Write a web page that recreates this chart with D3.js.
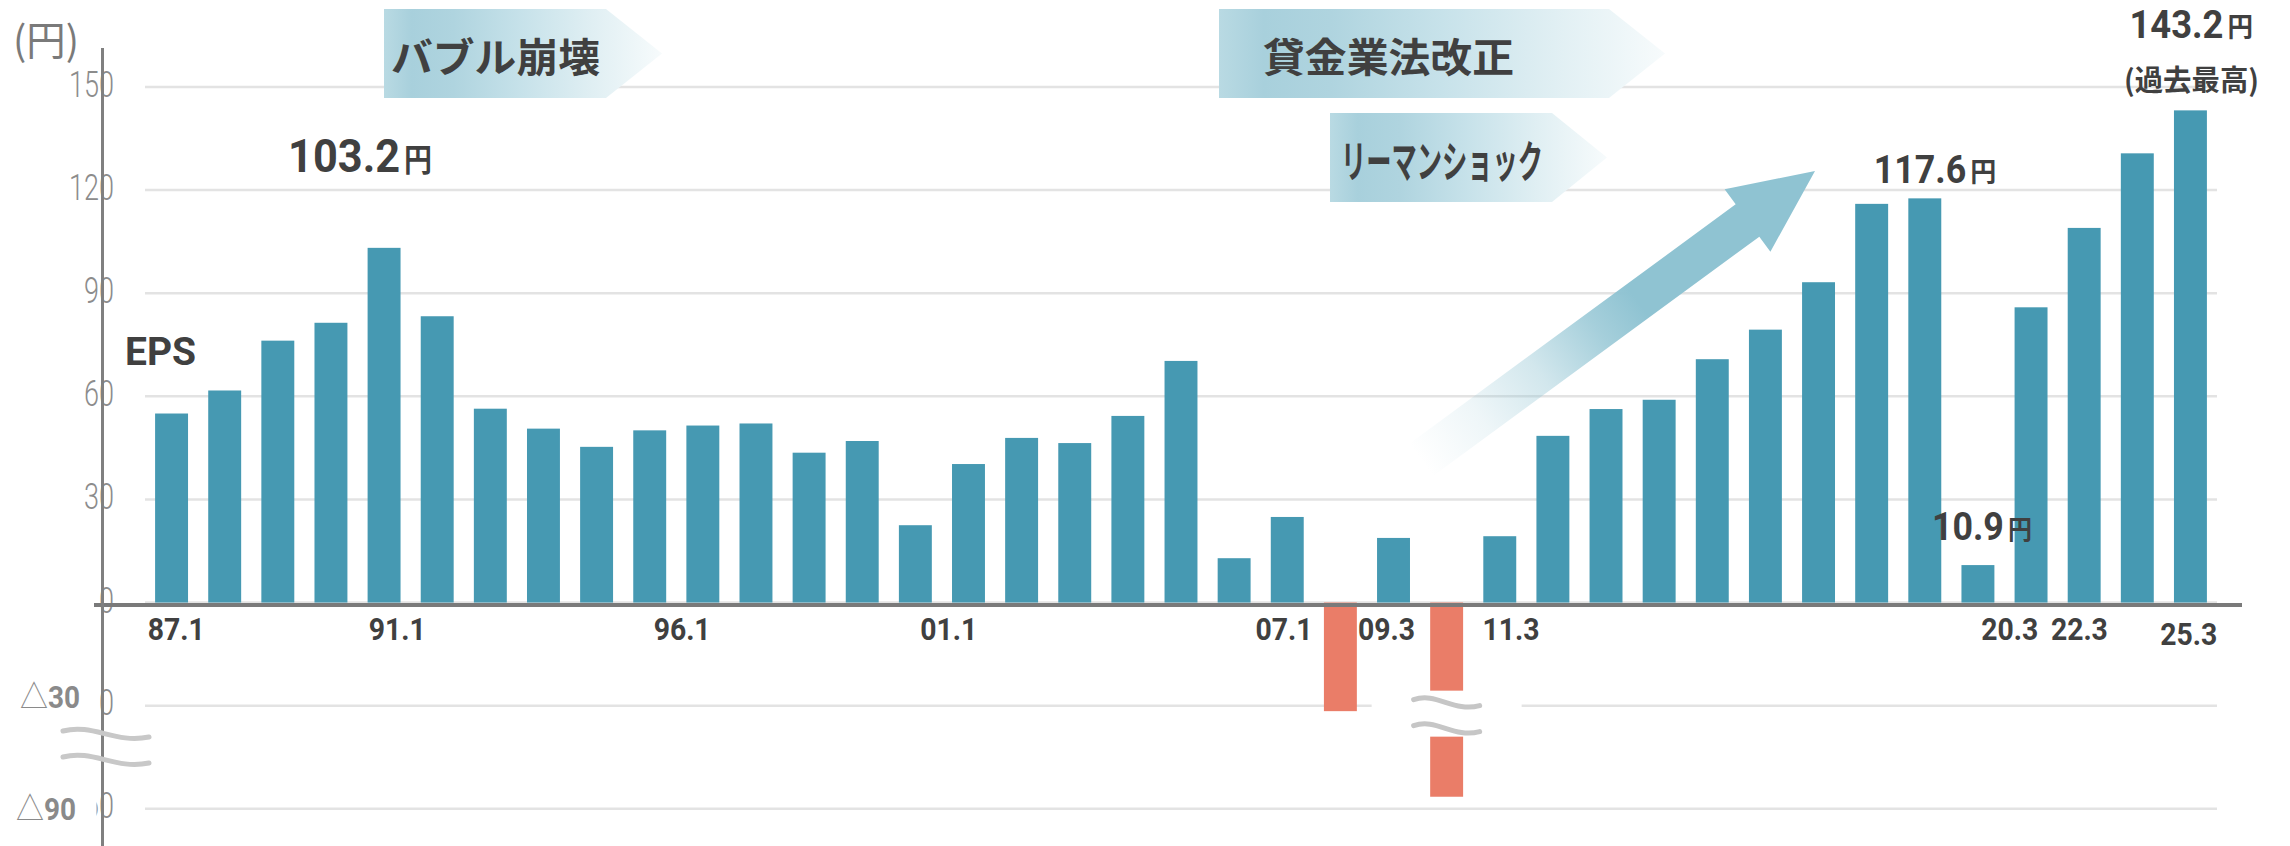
<!DOCTYPE html>
<html>
<head>
<meta charset="utf-8">
<script src="https://cdn.jsdelivr.net/npm/d3@7"></script>
<style>
  html, body { margin: 0; padding: 0; background: #fff; }
  svg { display: block; }
</style>
</head>
<body>
<svg id="chart" width="2290" height="846"></svg>
<script>
// fiscal years (Jan year-end until 08.1, Mar year-end from 09.3)
const years = ["87.1","88.1","89.1","90.1","91.1","92.1","93.1","94.1","95.1","96.1",
  "97.1","98.1","99.1","00.1","01.1","02.1","03.1","04.1","05.1","06.1","07.1","08.1",
  "09.3","10.3","11.3","12.3","13.3","14.3","15.3","16.3","17.3","18.3","19.3","20.3",
  "21.3","22.3","23.3","24.3","25.3"];
// EPS (yen)
const eps = [55.0, 61.7, 76.2, 81.4, 103.2, 83.3, 56.4, 50.6, 45.3, 50.1,
  51.5, 52.1, 43.6, 47.0, 22.5, 40.3, 47.9, 46.4, 54.3, 70.3, 12.9, 24.9,
  -31.6, 18.8, -82.5, 19.3, 48.5, 56.3, 59.0, 70.8, 79.4, 93.2, 116.0, 117.6,
  10.9, 85.9, 109.0, 130.7, 143.2];

const tickYears = ["87.1","91.1","96.1","01.1","07.1","09.3","11.3","20.3","22.3","25.3"];
const gridValues = [150, 120, 90, 60, 30, 0, -30, -90];
const yTickValues = [150, 120, 90, 60, 30, 0];
const negTickValues = [-30, -90];
const negTickLabels = ["30", "90"];
const calloutYears = ["91.1", "20.3", "21.3", "25.3"];
const eventLabels = ["バブル崩壊", "貸金業法改正", "リーマンショック"];

const data = years.map((d, i) => ({ year: d, value: eps[i] }));

const svg = d3.select("#chart");
const defs = svg.append("defs");

const x = d3.scaleBand().domain(years).range([145, 2217])
  .paddingInner(0.38).paddingOuter(0.19);
// broken axis below -34
const y = d3.scaleLinear().domain([-90, -34, 150]).range([808.7, 719.4, 87]);
const cx = d => x(d) + x.bandwidth() / 2;

const JP = "'Noto Sans CJK JP', 'Noto Sans', sans-serif";
const NUM = "Roboto, 'Liberation Sans', sans-serif";
const dark = "#404040";

// gradients
const bg = defs.append("linearGradient").attr("id", "banner").attr("x1", 0).attr("x2", 1).attr("y1", 0).attr("y2", 0);
[[0, "#b9dae3"], [0.1, "#a8d0dc"], [0.25, "#afd4df"], [0.5, "#c7e2ea"], [0.75, "#e0eff3"], [1, "#f7fbfc"]]
  .forEach(([o, c]) => bg.append("stop").attr("offset", o).attr("stop-color", c));

// gridlines
svg.append("g").selectAll("line").data(gridValues).join("line")
  .attr("x1", 145).attr("x2", 2217)
  .attr("y1", d => y(d)).attr("y2", d => y(d))
  .attr("stroke", "#e3e3e3").attr("stroke-width", 2.5);

// y tick labels
svg.append("g").selectAll("text").data(yTickValues).join("text")
  .attr("x", 114).attr("y", d => y(d) + 10)
  .attr("text-anchor", "end")
  .attr("font-family", NUM).attr("font-weight", 300).attr("font-size", 36)
  .attr("fill", "#8c8c8c")
  .attr("textLength", d => String(d).length * 15).attr("lengthAdjust", "spacingAndGlyphs")
  .text(d => d);

// original negative labels, mostly hidden under the replacement labels
svg.append("g").selectAll("text").data(negTickValues).join("text")
  .attr("x", 114).attr("y", d => y(d) + 9)
  .attr("text-anchor", "end")
  .attr("font-family", NUM).attr("font-weight", 300).attr("font-size", 36)
  .attr("fill", "#8c8c8c")
  .attr("textLength", 30).attr("lengthAdjust", "spacingAndGlyphs")
  .text((d, i) => i === 0 ? "30" : "60");
svg.append("g").selectAll("rect").data(negTickValues).join("rect")
  .attr("x", 0).attr("width", (d, i) => i === 0 ? 99.5 : 96.5)
  .attr("y", d => y(d) - 22).attr("height", 36)
  .attr("fill", "#fff");

// event banners
const banners = [
  { x0: 384, x1: 606, tip: 662, top: 9, bottom: 98, tx: 391, tw: 209, fs: 40 },
  { x0: 1219, x1: 1609, tip: 1665, top: 9, bottom: 98, tx: 1263, tw: 251, fs: 40 },
  { x0: 1330, x1: 1552, tip: 1607, top: 113, bottom: 202, tx: 1341, tw: 202, fs: 44 }
];
const bannerG = svg.append("g").selectAll("g").data(banners).join("g");
bannerG.append("path")
  .attr("d", b => `M${b.x0},${b.top}L${b.x1},${b.top}L${b.tip},${(b.top + b.bottom) / 2}L${b.x1},${b.bottom}L${b.x0},${b.bottom}Z`)
  .attr("fill", "url(#banner)");
bannerG.append("text")
  .attr("x", b => b.tx).attr("y", b => (b.top + b.bottom) / 2 + 1)
  .attr("dominant-baseline", "central")
  .attr("font-family", JP).attr("font-weight", 700).attr("font-size", b => b.fs)
  .attr("fill", dark)
  .attr("textLength", b => b.tw).attr("lengthAdjust", "spacingAndGlyphs")
  .text((b, i) => eventLabels[i]);

// growth arrow
(function () {
  const tip = [1815, 171];
  const u = [0.8065, -0.5914], n = [0.5914, 0.8065];
  const headLen = 83.7, shaftLen = 405, sw = 20, hw = 38.7;
  const base = [tip[0] - headLen * u[0], tip[1] - headLen * u[1]];
  const tail = [base[0] - shaftLen * u[0], base[1] - shaftLen * u[1]];
  const p = (o, k) => [o[0] + k * n[0], o[1] + k * n[1]];
  const pts = [p(tail, -sw), p(base, -sw), p(base, -hw), tip, p(base, hw), p(base, sw), p(tail, sw)];
  const ag = defs.append("linearGradient").attr("id", "arrowGrad")
    .attr("gradientUnits", "userSpaceOnUse")
    .attr("x1", tail[0]).attr("y1", tail[1]).attr("x2", tip[0]).attr("y2", tip[1]);
  [[0, 0], [0.15, 0.15], [0.3, 0.4], [0.45, 0.8], [0.55, 1], [1, 1]]
    .forEach(([o, a]) => ag.append("stop").attr("offset", o).attr("stop-color", "#8fc3d2").attr("stop-opacity", a));
  svg.append("path").attr("d", d3.line()(pts) + "Z").attr("fill", "url(#arrowGrad)");
})();

// bars
svg.append("g").selectAll("rect").data(data).join("rect")
  .attr("x", d => x(d.year))
  .attr("width", x.bandwidth())
  .attr("y", d => d.value >= 0 ? y(d.value) : y(0))
  .attr("height", d => Math.abs(y(d.value) - y(0)))
  .attr("fill", d => d.value >= 0 ? "#4699b2" : "#ea7d68");

function squiggle(xc, yc, w) {
  const x0 = xc - w / 2;
  return `M${x0},${yc - 4}C${x0 + w * 0.35},${yc - 12} ${x0 + w * 0.6},${yc + 9} ${x0 + w},${yc + 2}`;
}

// break on the deep negative bar
const deep = data.filter(d => d.value < -60);
const brk = svg.append("g");
brk.selectAll("rect").data(deep).join("rect")
  .attr("x", d => cx(d.year) - 75).attr("width", 150)
  .attr("y", y(-30) - 15).attr("height", 46)
  .attr("fill", "#fff");
deep.forEach(d => {
  [y(-30) - 2, y(-30) + 24].forEach(yy => brk.append("path")
    .attr("d", squiggle(cx(d.year), yy, 66))
    .attr("fill", "none").attr("stroke", "#c6c6c6").attr("stroke-width", 5).attr("stroke-linecap", "round"));
});

// zero line
svg.append("line")
  .attr("x1", 94).attr("x2", 2242)
  .attr("y1", y(0) + 2.5).attr("y2", y(0) + 2.5)
  .attr("stroke", "#7a7a7a").attr("stroke-width", 4);

// y axis
svg.append("line")
  .attr("x1", 102.5).attr("x2", 102.5)
  .attr("y1", 48).attr("y2", 846)
  .attr("stroke", "#808080").attr("stroke-width", 3);

// axis break marks
[735, 761].forEach(yy => svg.append("path")
  .attr("d", squiggle(106, yy, 86))
  .attr("fill", "none").attr("stroke", "#c8c8c8").attr("stroke-width", 5).attr("stroke-linecap", "round"));

// negative tick labels
const negG = svg.append("g").selectAll("text").data(negTickValues).join("text")
  .attr("x", (d, i) => i === 0 ? 20 : 16)
  .attr("y", (d, i) => y(d) + (i === 0 ? 2 : 11))
  .attr("fill", "#8a8a8a").attr("font-size", 32)
  .attr("textLength", 60).attr("lengthAdjust", "spacingAndGlyphs");
negG.append("tspan").attr("font-family", JP).attr("font-weight", 300).text("△");
negG.append("tspan").attr("font-family", NUM).attr("font-weight", 700).text((d, i) => negTickLabels[i]);

// x tick labels (hand-placed next to their bars in the original)
const tickNudge = [0.09, 0.25, 0.61, 0.63, 0.94, 0.87, 1.21, 1.6, 0.91, -0.03];
svg.append("g").selectAll("text").data(tickYears).join("text")
  .attr("x", (d, i) => cx(d) + tickNudge[i] * x.step())
  .attr("y", (d, i) => y(0) + (d === "25.3" ? 42.5 : 37.5))
  .attr("text-anchor", "middle")
  .attr("font-family", NUM).attr("font-weight", 700).attr("font-size", 31)
  .attr("fill", dark)
  .attr("textLength", 57).attr("lengthAdjust", "spacingAndGlyphs")
  .text(d => d);

// value callouts
const calloutStyle = [
  { dx: -96, dy: -76, fs: 46, nw: 112, ys: 32, yw: 28 },
  { dx: -51, dy: -15, fs: 39, nw: 92.5, ys: 27, yw: 26 },
  { dx: -46, dy: -25, fs: 39, nw: 72, ys: 26, yw: 24 },
  { dx: -61, dy: -72, fs: 39, nw: 94, ys: 27, yw: 25.5 }
];
const fmt = d3.format(".1f");
calloutYears.forEach((yr, i) => {
  const d = data.find(e => e.year === yr), s = calloutStyle[i];
  const x0 = cx(yr) + s.dx, by = y(d.value) + s.dy;
  svg.append("text").attr("x", x0).attr("y", by)
    .attr("font-family", NUM).attr("font-weight", 700).attr("font-size", s.fs).attr("fill", dark)
    .attr("textLength", s.nw).attr("lengthAdjust", "spacingAndGlyphs")
    .text(fmt(d.value));
  svg.append("text").attr("x", x0 + s.nw + 4).attr("y", by - 1)
    .attr("font-family", JP).attr("font-weight", 700).attr("font-size", s.ys).attr("fill", dark)
    .attr("textLength", s.yw).attr("lengthAdjust", "spacingAndGlyphs")
    .text("円");
});

// record note
svg.append("text").attr("x", 2124).attr("y", 91)
  .attr("font-family", JP).attr("font-weight", 700).attr("font-size", 29).attr("fill", dark)
  .attr("textLength", 135).attr("lengthAdjust", "spacingAndGlyphs")
  .text("(過去最高)");

// series name and unit
svg.append("text").attr("x", 125).attr("y", 365)
  .attr("font-family", NUM).attr("font-weight", 700).attr("font-size", 39).attr("fill", dark)
  .attr("textLength", 71).attr("lengthAdjust", "spacingAndGlyphs")
  .text("EPS");
svg.append("text").attr("x", 13).attr("y", 55)
  .attr("font-family", JP).attr("font-weight", 400).attr("font-size", 40).attr("fill", "#7a7a7a")
  .attr("textLength", 66).attr("lengthAdjust", "spacingAndGlyphs")
  .text("(円)");
</script>
</body>
</html>
